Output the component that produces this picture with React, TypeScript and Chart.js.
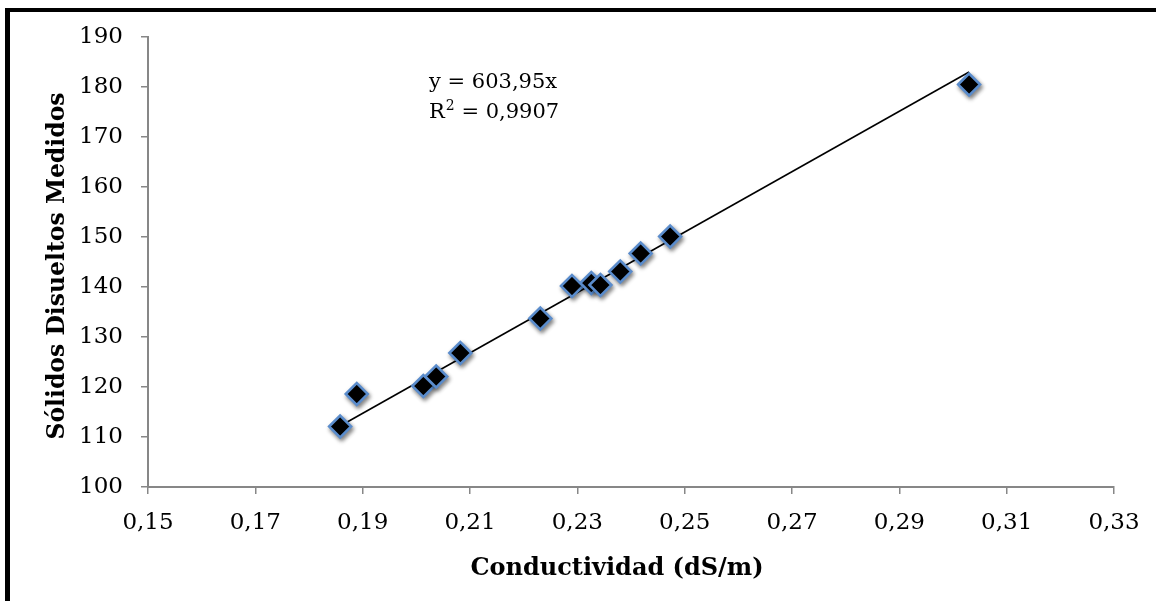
import React, { useEffect, useRef } from "react";
import { Chart, registerables } from "chart.js";

Chart.register(...registerables);

// Data
const conductivity = [0.1858, 0.1889, 0.2013, 0.2037, 0.2082, 0.2231, 0.229, 0.2326, 0.2343, 0.238, 0.2418, 0.2473, 0.303];
const solids = [112.1, 118.6, 120.2, 122.1, 126.8, 133.7, 140.2, 140.8, 140.4, 143.1, 146.7, 150.1, 180.5];

const xTicks = [0.15, 0.17, 0.19, 0.21, 0.23, 0.25, 0.27, 0.29, 0.31, 0.33];
const xTickLabels = ["0,15", "0,17", "0,19", "0,21", "0,23", "0,25", "0,27", "0,29", "0,31", "0,33"];
const yTicks = [100, 110, 120, 130, 140, 150, 160, 170, 180, 190];
const yTickLabels = ["100", "110", "120", "130", "140", "150", "160", "170", "180", "190"];

const slope = 603.95;
const equationText = "y = 603,95x";
const r2Text = "0,9907";
const xTitle = "Conductividad (dS/m)";
const yTitle = "Sólidos Disueltos Medidos";

const W = 1156;
const H = 601;
const FONT = "'DejaVu Serif', serif";
const AXIS_COLOR = "#878787";

export default function App() {
  const ref = useRef<HTMLCanvasElement | null>(null);

  useEffect(() => {
    const canvas = ref.current;
    if (!canvas) return;

    const xMin = Math.min(...conductivity);
    const xMax = Math.max(...conductivity);
    const trend = [
      { x: xMin, y: slope * xMin },
      { x: xMax, y: slope * xMax },
    ];

    const framePlugin = {
      id: "frame",
      beforeDraw(chart: any) {
        const ctx = chart.ctx;
        ctx.save();
        ctx.fillStyle = "#ffffff";
        ctx.fillRect(0, 0, W, H);
        ctx.fillStyle = "#000000";
        ctx.fillRect(5, 8, 5, H - 8);
        ctx.fillRect(5, 8, W - 5, 4);
        ctx.restore();
      },
    };

    const shadowPlugin = {
      id: "markerShadow",
      beforeDatasetDraw(chart: any, args: any) {
        if (args.index !== 0) return;
        const ctx = chart.ctx;
        ctx.save();
        ctx.shadowColor = "rgba(0,0,0,0.45)";
        ctx.shadowBlur = 4;
        ctx.shadowOffsetX = 1.5;
        ctx.shadowOffsetY = 2.5;
      },
      afterDatasetDraw(chart: any, args: any) {
        if (args.index !== 0) return;
        chart.ctx.restore();
      },
    };

    const textPlugin = {
      id: "texts",
      afterDraw(chart: any) {
        const ctx = chart.ctx;
        ctx.save();
        ctx.fillStyle = "#000000";
        ctx.textBaseline = "middle";
        ctx.textAlign = "left";
        ctx.font = `21px ${FONT}`;
        const left = 429;
        ctx.fillText(equationText, left, 83);
        ctx.fillText("R", left, 113);
        const rW = ctx.measureText("R").width;
        ctx.font = `14px ${FONT}`;
        ctx.fillText("2", left + rW + 1, 106);
        const sW = ctx.measureText("2").width;
        ctx.font = `21px ${FONT}`;
        ctx.fillText(" = " + r2Text, left + rW + 1 + sW, 113);

        // axis titles
        ctx.textAlign = "center";
        ctx.font = `bold 24px ${FONT}`;
        ctx.fillText(xTitle, 617, 569);
        ctx.save();
        ctx.translate(58, 266);
        ctx.rotate(-Math.PI / 2);
        ctx.font = `bold 23.5px ${FONT}`;
        ctx.fillText(yTitle, 0, 0);
        ctx.restore();
        ctx.restore();
      },
    };

    const chart = new Chart(canvas, {
      type: "scatter",
      data: {
        datasets: [
          {
            label: "Datos",
            data: conductivity.map((x, i) => ({ x, y: solids[i] })),
            pointStyle: "rectRot",
            pointRadius: 11,
            pointBackgroundColor: "#000000",
            pointBorderColor: "#5a8ccc",
            pointBorderWidth: 2.5,
            showLine: false,
            order: 0,
          },
          {
            label: "Tendencia",
            type: "line",
            data: trend,
            borderColor: "#000000",
            borderWidth: 1.6,
            pointRadius: 0,
            fill: false,
            order: 1,
          } as any,
        ],
      },
      options: {
        responsive: false,
        animation: false,
        events: [],
        layout: { padding: { left: 0, top: 37, right: 42, bottom: 0 } },
        plugins: {
          legend: { display: false },
          tooltip: { enabled: false },
          title: { display: false },
        },
        scales: {
          x: {
            type: "linear",
            min: 0.15,
            max: 0.33,
            afterFit(scale: any) {
              scale.height = H - 487;
            },
            afterBuildTicks(scale: any) {
              scale.ticks = xTicks.map((v) => ({ value: v }));
            },
            grid: {
              display: true,
              drawOnChartArea: false,
              drawTicks: true,
              tickLength: 7,
              color: AXIS_COLOR,
              lineWidth: 1.5,
            },
            border: { display: true, color: AXIS_COLOR, width: 2 },
            ticks: {
              color: "#000000",
              padding: 15,
              maxRotation: 0,
              autoSkip: false,
              font: { family: FONT, size: 23 },
              callback: (_v: any, i: number) => xTickLabels[i],
            },
            title: { display: false },
          },
          y: {
            type: "linear",
            min: 100,
            max: 190,
            afterFit(scale: any) {
              scale.width = 148;
            },
            afterBuildTicks(scale: any) {
              scale.ticks = yTicks.map((v) => ({ value: v }));
            },
            grid: {
              display: true,
              drawOnChartArea: false,
              drawTicks: true,
              tickLength: 7,
              color: AXIS_COLOR,
              lineWidth: 1.5,
            },
            border: { display: true, color: AXIS_COLOR, width: 2 },
            ticks: {
              color: "#000000",
              padding: 18,
              autoSkip: false,
              font: { family: FONT, size: 23 },
              callback: (_v: any, i: number) => yTickLabels[i],
            },
            title: { display: false },
          },
        },
      },
      plugins: [framePlugin, shadowPlugin, textPlugin],
    });

    return () => chart.destroy();
  }, []);

  return (
    <div style={{ position: "fixed", left: 0, top: 0, width: W, height: H, overflow: "hidden", background: "#fff" }}>
      <canvas ref={ref} width={W} height={H} style={{ display: "block", width: W, height: H }} />
    </div>
  );
}
